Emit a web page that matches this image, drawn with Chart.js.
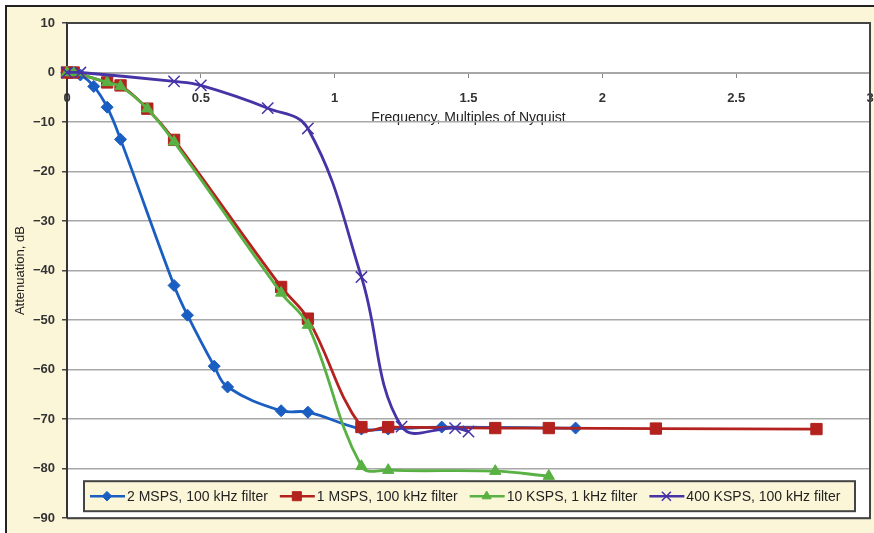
<!DOCTYPE html>
<html>
<head>
<meta charset="utf-8">
<title>Attenuation vs frequency</title>
<script src="https://cdn.jsdelivr.net/npm/chart.js@4.4.1/dist/chart.umd.min.js"></script>
<style>
  html, body { margin: 0; padding: 0; background: #fff; }
  #wrap { width: 874px; height: 533px; }
</style>
</head>
<body>
<div id="wrap"><canvas id="atten" width="874" height="533"></canvas></div>
<script>
// tick positions
const freqTicks = [0, 0.5, 1, 1.5, 2, 2.5, 3];
const dbTicks = [10, 0, -10, -20, -30, -40, -50, -60, -70, -80, -90];

const seriesNames = [
  '2 MSPS, 100 kHz filter',
  '1 MSPS, 100 kHz filter',
  '10 KSPS, 1 kHz filter',
  '400 KSPS, 100 kHz filter'
];

// 2 MSPS
const msps2Freq = [0, 0.05, 0.1, 0.15, 0.2, 0.4, 0.45, 0.55, 0.6, 0.8, 0.9, 1.1, 1.2, 1.4, 1.9];
const msps2Db = [0, -0.5, -2.8, -7, -13.5, -43, -49, -59.3, -63.5, -68.3, -68.6, -72, -72, -71.6, -71.8];

// 1 MSPS
const msps1Freq = [0, 0.025, 0.15, 0.2, 0.3, 0.4, 0.8, 0.9, 1.1, 1.2, 1.6, 1.8, 2.2, 2.8];
const msps1Db = [0, 0, -2, -2.6, -7.3, -13.6, -43.3, -49.7, -71.6, -71.6, -71.8, -71.8, -71.9, -72];

// 10 KSPS
const ksps10Freq = [0, 0.025, 0.15, 0.2, 0.3, 0.4, 0.8, 0.9, 1.1, 1.2, 1.6, 1.8];
const ksps10Db = [0, 0, -2, -2.8, -7.3, -14, -44.5, -51, -79.5, -80.3, -80.5, -81.5];

// 400 KSPS
const ksps400Freq = [0, 0.05, 0.4, 0.5, 0.75, 0.9, 1.1, 1.25, 1.45, 1.5];
const ksps400Db = [0, 0, -1.8, -2.6, -7.2, -11.3, -41.3, -71.5, -71.8, -72.5];

const pts = (xs, ys) => xs.map((x, i) => ({ x: x, y: ys[i] }));

const cream = '#fcf6d9';
const fontFamily = '"Liberation Sans", Arial, sans-serif';

// page frame, plot border and the legend box inside the plot
const framePlugin = {
  id: 'frame',
  beforeDraw(chart) {
    const { ctx, chartArea: a, width, height } = chart;
    ctx.save();
    ctx.fillStyle = '#fff';
    ctx.fillRect(0, 0, width, height);
    ctx.fillStyle = cream;
    ctx.fillRect(6, 6, width - 6, height - 6);
    ctx.strokeStyle = '#222';
    ctx.lineWidth = 2;
    ctx.beginPath();
    ctx.moveTo(6, height);
    ctx.lineTo(6, 6);
    ctx.lineTo(width, 6);
    ctx.stroke();
    ctx.fillStyle = '#fff';
    ctx.fillRect(a.left, a.top, a.right - a.left, a.bottom - a.top);
    ctx.restore();
  },
  afterDraw(chart) {
    const { ctx, chartArea: a } = chart;
    ctx.save();
    ctx.strokeStyle = '#444';
    ctx.lineWidth = 2;
    ctx.beginPath();
    ctx.moveTo(a.left, a.top);
    ctx.lineTo(a.right, a.top);
    ctx.lineTo(a.right, a.bottom);
    ctx.lineTo(a.left, a.bottom);
    ctx.stroke();

    // legend
    const box = { left: a.left + 17, top: a.bottom - 37, w: a.right - a.left - 32, h: 30 };
    ctx.fillStyle = cream;
    ctx.fillRect(box.left, box.top, box.w, box.h);
    ctx.strokeStyle = '#444';
    ctx.strokeRect(box.left, box.top, box.w, box.h);

    ctx.font = '14px ' + fontFamily;
    ctx.textBaseline = 'middle';
    const cy = box.top + box.h / 2;
    let x = box.left + 6;
    chart.data.datasets.forEach((ds) => {
      ctx.strokeStyle = ds.borderColor;
      ctx.fillStyle = ds.backgroundColor;
      ctx.lineWidth = 2.5;
      ctx.beginPath();
      ctx.moveTo(x, cy);
      ctx.lineTo(x + 35, cy);
      ctx.stroke();
      ctx.lineWidth = ds.pointBorderWidth || 1;
      Chart.helpers.drawPoint(ctx, {
        pointStyle: ds.pointStyle,
        radius: ds.pointRadius * 0.8,
        rotation: 0,
        borderWidth: ds.pointBorderWidth || 1
      }, x + 17, cy);
      ctx.fillStyle = '#222';
      ctx.fillText(ds.label, x + 37, cy + 1);
      x += 37 + ctx.measureText(ds.label).width + 12;
    });
    ctx.restore();
  }
};

const blue = '#1b5ec2';
const red = '#b3221f';
const green = '#58b142';
const purple = '#4633a6';

new Chart(document.getElementById('atten'), {
  type: 'line',
  data: {
    datasets: [{
      label: seriesNames[0],
      data: pts(msps2Freq, msps2Db),
      borderColor: blue,
      backgroundColor: blue,
      pointStyle: 'rectRot',
      pointRadius: 6,
      order: 3
    }, {
      label: seriesNames[1],
      data: pts(msps1Freq, msps1Db),
      borderColor: red,
      backgroundColor: red,
      pointStyle: 'rect',
      pointRadius: 8,
      order: 2
    }, {
      label: seriesNames[2],
      data: pts(ksps10Freq, ksps10Db),
      borderColor: green,
      backgroundColor: green,
      pointStyle: 'triangle',
      pointRadius: 6.5,
      order: 1
    }, {
      label: seriesNames[3],
      data: pts(ksps400Freq, ksps400Db),
      borderColor: purple,
      backgroundColor: purple,
      pointStyle: 'crossRot',
      pointRadius: 8,
      pointBorderWidth: 1.5,
      order: 0
    }]
  },
  options: {
    responsive: false,
    animation: false,
    layout: { autoPadding: false, padding: { left: 6, top: 23, right: 4, bottom: 13 } },
    elements: {
      line: { borderWidth: 2.8, tension: 0.4 },
      point: { borderWidth: 1 }
    },
    datasets: { line: { clip: false } },
    plugins: {
      legend: { display: false },
      tooltip: { enabled: false }
    },
    scales: {
      x: {
        type: 'linear',
        min: 0,
        max: 3,
        position: { y: 0 },
        afterBuildTicks: (s) => { s.ticks = freqTicks.map(v => ({ value: v })); },
        afterFit: (s) => { s.paddingLeft = 0; s.paddingRight = 0; },
        ticks: {
          color: '#333',
          font: { family: fontFamily, size: 13, weight: 'bold' },
          padding: 14,
          maxRotation: 0,
          autoSkip: false,
          callback: (v) => String(v)
        },
        grid: { drawOnChartArea: false, drawTicks: true, tickLength: 4, tickColor: '#888' },
        border: { color: '#a8a8a8', width: 2 },
        title: {
          display: true,
          text: 'Frequency, Multiples of Nyquist',
          color: '#222',
          font: { family: fontFamily, size: 14 },
          padding: { top: -10, bottom: 0 }
        }
      },
      y: {
        min: -90,
        max: 10,
        afterBuildTicks: (s) => { s.ticks = dbTicks.map(v => ({ value: v })); },
        afterFit: (s) => { s.width = 61; },
        ticks: {
          color: '#333',
          font: { family: fontFamily, size: 13, weight: 'bold' },
          padding: 7,
          callback: (v) => (v < 0 ? '\u2212' + Math.abs(v) : String(v))
        },
        grid: { color: '#a8a8a8', lineWidth: 1.5, tickColor: '#444', tickLength: 5 },
        border: { color: '#333', width: 2 },
        title: {
          display: true,
          text: 'Attenuation, dB',
          color: '#222',
          font: { family: fontFamily, size: 13 },
          padding: { top: 7, bottom: 0 }
        }
      }
    }
  },
  plugins: [framePlugin]
});
</script>
</body>
</html>
